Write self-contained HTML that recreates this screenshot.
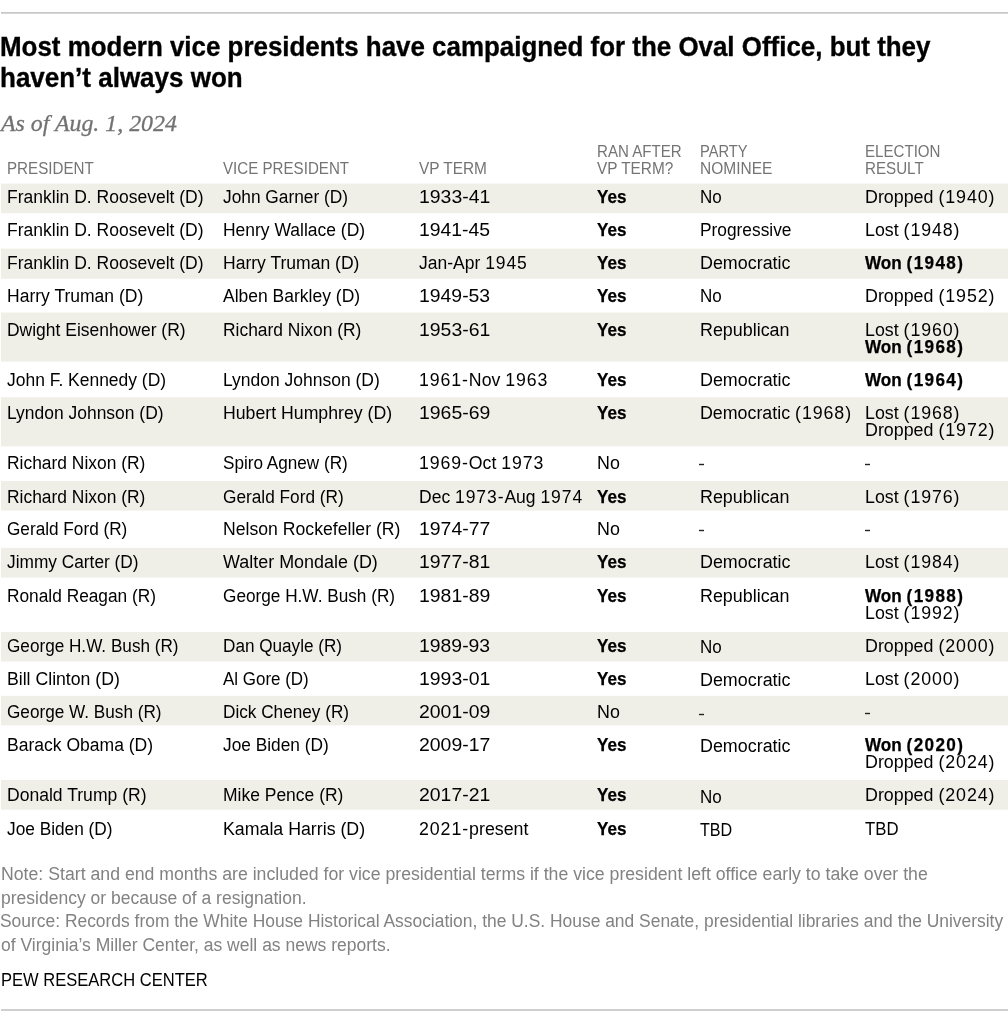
<!DOCTYPE html>
<html><head><meta charset="utf-8"><title>Vice presidents</title>
<style>
html,body{margin:0;padding:0;background:#fff}
body{width:1008px;height:1023px;position:relative;overflow:hidden;font-family:'Liberation Sans', sans-serif}
.t{position:absolute;white-space:nowrap;line-height:1;transform-origin:0 0;display:block}
.r{position:absolute}
#w{position:absolute;left:0;top:0;width:1008px;height:1023px;will-change:transform}
</style></head><body><div id="w">
<div class="r" style="left:1px;top:12px;width:1007px;height:1px;background:#c8c8c8"></div>
<div class="r" style="left:1px;top:13px;width:1007px;height:1px;background:#d6d6d6"></div>
<div class="r" style="left:1px;top:1009px;width:1007px;height:1px;background:#cecece"></div>
<div class="r" style="left:1px;top:1010px;width:1007px;height:1px;background:#d0d0d0"></div>
<div class="r" style="left:1px;top:184px;width:1007px;height:29px;background:#f0efe7"></div>
<div class="r" style="left:1px;top:183px;width:1007px;height:1px;background:#f8f7f3"></div>
<div class="r" style="left:1px;top:213px;width:1007px;height:1px;background:#fefdfd"></div>
<div class="r" style="left:1px;top:249px;width:1007px;height:29px;background:#f0efe7"></div>
<div class="r" style="left:1px;top:248px;width:1007px;height:1px;background:#f9f9f5"></div>
<div class="r" style="left:1px;top:278px;width:1007px;height:1px;background:#f4f3ed"></div>
<div class="r" style="left:1px;top:313px;width:1007px;height:48px;background:#f0efe7"></div>
<div class="r" style="left:1px;top:312px;width:1007px;height:1px;background:#f8f7f3"></div>
<div class="r" style="left:1px;top:361px;width:1007px;height:1px;background:#f6f5f1"></div>
<div class="r" style="left:1px;top:398px;width:1007px;height:48px;background:#f0efe7"></div>
<div class="r" style="left:1px;top:397px;width:1007px;height:1px;background:#f3f2ec"></div>
<div class="r" style="left:1px;top:446px;width:1007px;height:1px;background:#fafaf8"></div>
<div class="r" style="left:1px;top:481px;width:1007px;height:29px;background:#f0efe7"></div>
<div class="r" style="left:1px;top:510px;width:1007px;height:1px;background:#f6f5f1"></div>
<div class="r" style="left:1px;top:548px;width:1007px;height:29px;background:#f0efe7"></div>
<div class="r" style="left:1px;top:547px;width:1007px;height:1px;background:#fdfdfd"></div>
<div class="r" style="left:1px;top:577px;width:1007px;height:1px;background:#f6f5f1"></div>
<div class="r" style="left:1px;top:632px;width:1007px;height:29px;background:#f0efe7"></div>
<div class="r" style="left:1px;top:661px;width:1007px;height:1px;background:#f8f7f3"></div>
<div class="r" style="left:1px;top:696px;width:1007px;height:29px;background:#f0efe7"></div>
<div class="r" style="left:1px;top:695px;width:1007px;height:1px;background:#fdfdfd"></div>
<div class="r" style="left:1px;top:725px;width:1007px;height:1px;background:#fbfaf8"></div>
<div class="r" style="left:1px;top:780px;width:1007px;height:29px;background:#f0efe7"></div>
<div class="r" style="left:1px;top:809px;width:1007px;height:1px;background:#f4f4ee"></div>
<div class="r" style="left:699px;top:464px;width:5px;height:1px;background:#222222"></div>
<div class="r" style="left:699px;top:463px;width:5px;height:1px;background:#d3d3d3"></div>
<div class="r" style="left:699px;top:465px;width:5px;height:1px;background:#d3d3d3"></div>
<div class="r" style="left:865px;top:464px;width:5px;height:1px;background:#222222"></div>
<div class="r" style="left:865px;top:463px;width:5px;height:1px;background:#d3d3d3"></div>
<div class="r" style="left:865px;top:465px;width:5px;height:1px;background:#d3d3d3"></div>
<div class="r" style="left:699px;top:530px;width:5px;height:1px;background:#222222"></div>
<div class="r" style="left:699px;top:529px;width:5px;height:1px;background:#d3d3d3"></div>
<div class="r" style="left:699px;top:531px;width:5px;height:1px;background:#d3d3d3"></div>
<div class="r" style="left:865px;top:530px;width:5px;height:1px;background:#222222"></div>
<div class="r" style="left:865px;top:529px;width:5px;height:1px;background:#d3d3d3"></div>
<div class="r" style="left:865px;top:531px;width:5px;height:1px;background:#d3d3d3"></div>
<div class="r" style="left:699px;top:714px;width:5px;height:1px;background:#222222"></div>
<div class="r" style="left:699px;top:713px;width:5px;height:1px;background:#c7c6c0"></div>
<div class="r" style="left:699px;top:715px;width:5px;height:1px;background:#c7c6c0"></div>
<div class="r" style="left:865px;top:713px;width:5px;height:1px;background:#222222"></div>
<div class="r" style="left:865px;top:712px;width:5px;height:1px;background:#c7c6c0"></div>
<div class="r" style="left:865px;top:714px;width:5px;height:1px;background:#c7c6c0"></div>
<div class="t" style="left:0px;top:33px;font-size:27.6px;color:#000;transform:scaleX(0.9393);font-weight:700;-webkit-text-stroke:0.35px #000">Most modern vice presidents have campaigned for the Oval Office, but they</div>
<div class="t" style="left:0px;top:64px;font-size:27.6px;color:#000;transform:scaleX(0.9419);font-weight:700;-webkit-text-stroke:0.35px #000">haven’t always won</div>
<div class="t" style="left:1px;top:112px;font-size:23px;color:#727272;transform:scaleX(1.0376);font-style:italic;font-family:'Liberation Serif', serif;-webkit-text-stroke:0.3px #727272">As of Aug. 1, 2024</div>
<div class="t" style="left:7px;top:160px;font-size:17px;color:#747474;transform:scaleX(0.8926)">PRESIDENT</div>
<div class="t" style="left:223px;top:160px;font-size:17px;color:#747474;transform:scaleX(0.8899)">VICE PRESIDENT</div>
<div class="t" style="left:419px;top:160px;font-size:17px;color:#747474;transform:scaleX(0.9061)">VP TERM</div>
<div class="t" style="left:597px;top:143px;font-size:17px;color:#747474;transform:scaleX(0.8864)">RAN AFTER</div>
<div class="t" style="left:597px;top:160px;font-size:17px;color:#747474;transform:scaleX(0.9042)">VP TERM?</div>
<div class="t" style="left:700px;top:143px;font-size:17px;color:#747474;transform:scaleX(0.8642)">PARTY</div>
<div class="t" style="left:700px;top:160px;font-size:17px;color:#747474;transform:scaleX(0.9121)">NOMINEE</div>
<div class="t" style="left:865px;top:143px;font-size:17px;color:#747474;transform:scaleX(0.8884)">ELECTION</div>
<div class="t" style="left:865px;top:160px;font-size:17px;color:#747474;transform:scaleX(0.8912)">RESULT</div>
<div class="t" style="left:7px;top:189px;font-size:17.6px;color:#000;transform:scaleX(0.9954)">Franklin D. Roosevelt (D)</div>
<div class="t" style="left:223px;top:189px;font-size:17.6px;color:#000;transform:scaleX(0.9840)">John Garner (D)</div>
<div class="t" style="left:419px;top:189px;font-size:17.6px;color:#000;transform:scaleX(1.1035)">1933-41</div>
<div class="t" style="left:597px;top:189px;font-size:17.8px;color:#000;transform:scaleX(0.9590);font-weight:700;-webkit-text-stroke:0.25px #000">Yes</div>
<div class="t" style="left:700px;top:189px;font-size:17.6px;color:#000;transform:scaleX(0.9655)">No</div>
<div class="t" style="left:865px;top:189px;font-size:17.6px;color:#000;transform:scaleX(1.0139)">Dropped <span style="letter-spacing:0.9px">(1940)</span></div>
<div class="t" style="left:7px;top:222px;font-size:17.6px;color:#000;transform:scaleX(0.9954)">Franklin D. Roosevelt (D)</div>
<div class="t" style="left:223px;top:222px;font-size:17.6px;color:#000;transform:scaleX(0.9932)">Henry Wallace (D)</div>
<div class="t" style="left:419px;top:222px;font-size:17.6px;color:#000;transform:scaleX(1.1014)">1941-45</div>
<div class="t" style="left:597px;top:222px;font-size:17.8px;color:#000;transform:scaleX(0.9590);font-weight:700;-webkit-text-stroke:0.25px #000">Yes</div>
<div class="t" style="left:700px;top:222px;font-size:17.6px;color:#000;transform:scaleX(0.9847)">Progressive</div>
<div class="t" style="left:865px;top:222px;font-size:17.6px;color:#000;transform:scaleX(1.0107)">Lost <span style="letter-spacing:0.9px">(1948)</span></div>
<div class="t" style="left:7px;top:255px;font-size:17.6px;color:#000;transform:scaleX(0.9954)">Franklin D. Roosevelt (D)</div>
<div class="t" style="left:223px;top:255px;font-size:17.6px;color:#000;transform:scaleX(0.9972)">Harry Truman (D)</div>
<div class="t" style="left:419px;top:255px;font-size:17.6px;color:#000;transform:scaleX(0.9945)">Jan-Apr <span style="letter-spacing:0.9px">1945</span></div>
<div class="t" style="left:597px;top:255px;font-size:17.8px;color:#000;transform:scaleX(0.9590);font-weight:700;-webkit-text-stroke:0.25px #000">Yes</div>
<div class="t" style="left:700px;top:255px;font-size:17.6px;color:#000;transform:scaleX(1.0169)">Democratic</div>
<div class="t" style="left:865px;top:255px;font-size:17.8px;color:#000;transform:scaleX(0.9639);font-weight:700;-webkit-text-stroke:0.25px #000">Won <span style="letter-spacing:1.4px">(1948)</span></div>
<div class="t" style="left:7px;top:288px;font-size:17.6px;color:#000;transform:scaleX(0.9958)">Harry Truman (D)</div>
<div class="t" style="left:223px;top:288px;font-size:17.6px;color:#000;transform:scaleX(0.9944)">Alben Barkley (D)</div>
<div class="t" style="left:419px;top:288px;font-size:17.6px;color:#000;transform:scaleX(1.1020)">1949-53</div>
<div class="t" style="left:597px;top:288px;font-size:17.8px;color:#000;transform:scaleX(0.9590);font-weight:700;-webkit-text-stroke:0.25px #000">Yes</div>
<div class="t" style="left:700px;top:288px;font-size:17.6px;color:#000;transform:scaleX(0.9655)">No</div>
<div class="t" style="left:865px;top:288px;font-size:17.6px;color:#000;transform:scaleX(1.0139)">Dropped <span style="letter-spacing:0.9px">(1952)</span></div>
<div class="t" style="left:7px;top:322px;font-size:17.6px;color:#000;transform:scaleX(0.9926)">Dwight Eisenhower (R)</div>
<div class="t" style="left:223px;top:322px;font-size:17.6px;color:#000;transform:scaleX(0.9898)">Richard Nixon (R)</div>
<div class="t" style="left:419px;top:322px;font-size:17.6px;color:#000;transform:scaleX(1.1035)">1953-61</div>
<div class="t" style="left:597px;top:322px;font-size:17.8px;color:#000;transform:scaleX(0.9590);font-weight:700;-webkit-text-stroke:0.25px #000">Yes</div>
<div class="t" style="left:700px;top:322px;font-size:17.6px;color:#000;transform:scaleX(1.0163)">Republican</div>
<div class="t" style="left:865px;top:322px;font-size:17.6px;color:#000;transform:scaleX(1.0107)">Lost <span style="letter-spacing:0.9px">(1960)</span></div>
<div class="t" style="left:865px;top:339px;font-size:17.8px;color:#000;transform:scaleX(0.9639);font-weight:700;-webkit-text-stroke:0.25px #000">Won <span style="letter-spacing:1.4px">(1968)</span></div>
<div class="t" style="left:7px;top:372px;font-size:17.6px;color:#000;transform:scaleX(0.9919)">John F. Kennedy (D)</div>
<div class="t" style="left:223px;top:372px;font-size:17.6px;color:#000;transform:scaleX(0.9937)">Lyndon Johnson (D)</div>
<div class="t" style="left:419px;top:372px;font-size:17.6px;color:#000;transform:scaleX(1.0068)"><span style="letter-spacing:0.9px">1961-</span>Nov <span style="letter-spacing:0.9px">1963</span></div>
<div class="t" style="left:597px;top:372px;font-size:17.8px;color:#000;transform:scaleX(0.9590);font-weight:700;-webkit-text-stroke:0.25px #000">Yes</div>
<div class="t" style="left:700px;top:372px;font-size:17.6px;color:#000;transform:scaleX(1.0169)">Democratic</div>
<div class="t" style="left:865px;top:372px;font-size:17.8px;color:#000;transform:scaleX(0.9639);font-weight:700;-webkit-text-stroke:0.25px #000">Won <span style="letter-spacing:1.4px">(1964)</span></div>
<div class="t" style="left:7px;top:405px;font-size:17.6px;color:#000;transform:scaleX(0.9924)">Lyndon Johnson (D)</div>
<div class="t" style="left:223px;top:405px;font-size:17.6px;color:#000;transform:scaleX(1.0056)">Hubert Humphrey (D)</div>
<div class="t" style="left:419px;top:405px;font-size:17.6px;color:#000;transform:scaleX(1.1030)">1965-69</div>
<div class="t" style="left:597px;top:405px;font-size:17.8px;color:#000;transform:scaleX(0.9590);font-weight:700;-webkit-text-stroke:0.25px #000">Yes</div>
<div class="t" style="left:700px;top:405px;font-size:17.6px;color:#000;transform:scaleX(1.0127)">Democratic <span style="letter-spacing:0.9px">(1968)</span></div>
<div class="t" style="left:865px;top:405px;font-size:17.6px;color:#000;transform:scaleX(1.0107)">Lost <span style="letter-spacing:0.9px">(1968)</span></div>
<div class="t" style="left:865px;top:422px;font-size:17.6px;color:#000;transform:scaleX(1.0139)">Dropped <span style="letter-spacing:0.9px">(1972)</span></div>
<div class="t" style="left:7px;top:455px;font-size:17.6px;color:#000;transform:scaleX(0.9894)">Richard Nixon (R)</div>
<div class="t" style="left:223px;top:455px;font-size:17.6px;color:#000;transform:scaleX(0.9744)">Spiro Agnew (R)</div>
<div class="t" style="left:419px;top:455px;font-size:17.6px;color:#000;transform:scaleX(1.0063)"><span style="letter-spacing:0.9px">1969-</span>Oct <span style="letter-spacing:0.9px">1973</span></div>
<div class="t" style="left:597px;top:455px;font-size:17.6px;color:#000;transform:scaleX(1.0160)">No</div>
<div class="t" style="left:7px;top:489px;font-size:17.6px;color:#000;transform:scaleX(0.9894)">Richard Nixon (R)</div>
<div class="t" style="left:223px;top:489px;font-size:17.6px;color:#000;transform:scaleX(0.9804)">Gerald Ford (R)</div>
<div class="t" style="left:419px;top:489px;font-size:17.6px;color:#000;transform:scaleX(0.9964)">Dec <span style="letter-spacing:0.9px">1973-</span>Aug <span style="letter-spacing:0.9px">1974</span></div>
<div class="t" style="left:597px;top:489px;font-size:17.8px;color:#000;transform:scaleX(0.9590);font-weight:700;-webkit-text-stroke:0.25px #000">Yes</div>
<div class="t" style="left:700px;top:489px;font-size:17.6px;color:#000;transform:scaleX(1.0163)">Republican</div>
<div class="t" style="left:865px;top:489px;font-size:17.6px;color:#000;transform:scaleX(1.0107)">Lost <span style="letter-spacing:0.9px">(1976)</span></div>
<div class="t" style="left:7px;top:521px;font-size:17.6px;color:#000;transform:scaleX(0.9767)">Gerald Ford (R)</div>
<div class="t" style="left:223px;top:521px;font-size:17.6px;color:#000;transform:scaleX(1.0024)">Nelson Rockefeller (R)</div>
<div class="t" style="left:419px;top:521px;font-size:17.6px;color:#000;transform:scaleX(1.1039)">1974-77</div>
<div class="t" style="left:597px;top:521px;font-size:17.6px;color:#000;transform:scaleX(1.0160)">No</div>
<div class="t" style="left:7px;top:554px;font-size:17.6px;color:#000;transform:scaleX(0.9827)">Jimmy Carter (D)</div>
<div class="t" style="left:223px;top:554px;font-size:17.6px;color:#000;transform:scaleX(1.0194)">Walter Mondale (D)</div>
<div class="t" style="left:419px;top:554px;font-size:17.6px;color:#000;transform:scaleX(1.1035)">1977-81</div>
<div class="t" style="left:597px;top:554px;font-size:17.8px;color:#000;transform:scaleX(0.9590);font-weight:700;-webkit-text-stroke:0.25px #000">Yes</div>
<div class="t" style="left:700px;top:554px;font-size:17.6px;color:#000;transform:scaleX(1.0169)">Democratic</div>
<div class="t" style="left:865px;top:554px;font-size:17.6px;color:#000;transform:scaleX(1.0107)">Lost <span style="letter-spacing:0.9px">(1984)</span></div>
<div class="t" style="left:7px;top:588px;font-size:17.6px;color:#000;transform:scaleX(0.9834)">Ronald Reagan (R)</div>
<div class="t" style="left:223px;top:588px;font-size:17.6px;color:#000;transform:scaleX(0.9777)">George H.W. Bush (R)</div>
<div class="t" style="left:419px;top:588px;font-size:17.6px;color:#000;transform:scaleX(1.1030)">1981-89</div>
<div class="t" style="left:597px;top:588px;font-size:17.8px;color:#000;transform:scaleX(0.9590);font-weight:700;-webkit-text-stroke:0.25px #000">Yes</div>
<div class="t" style="left:700px;top:588px;font-size:17.6px;color:#000;transform:scaleX(1.0163)">Republican</div>
<div class="t" style="left:865px;top:588px;font-size:17.8px;color:#000;transform:scaleX(0.9639);font-weight:700;-webkit-text-stroke:0.25px #000">Won <span style="letter-spacing:1.4px">(1988)</span></div>
<div class="t" style="left:865px;top:605px;font-size:17.6px;color:#000;transform:scaleX(1.0107)">Lost <span style="letter-spacing:0.9px">(1992)</span></div>
<div class="t" style="left:7px;top:638px;font-size:17.6px;color:#000;transform:scaleX(0.9749)">George H.W. Bush (R)</div>
<div class="t" style="left:223px;top:638px;font-size:17.6px;color:#000;transform:scaleX(0.9742)">Dan Quayle (R)</div>
<div class="t" style="left:419px;top:638px;font-size:17.6px;color:#000;transform:scaleX(1.1020)">1989-93</div>
<div class="t" style="left:597px;top:638px;font-size:17.8px;color:#000;transform:scaleX(0.9590);font-weight:700;-webkit-text-stroke:0.25px #000">Yes</div>
<div class="t" style="left:700px;top:639px;font-size:17.6px;color:#000;transform:scaleX(0.9655)">No</div>
<div class="t" style="left:865px;top:638px;font-size:17.6px;color:#000;transform:scaleX(1.0139)">Dropped <span style="letter-spacing:0.9px">(2000)</span></div>
<div class="t" style="left:7px;top:671px;font-size:17.6px;color:#000;transform:scaleX(1.0037)">Bill Clinton (D)</div>
<div class="t" style="left:223px;top:671px;font-size:17.6px;color:#000;transform:scaleX(0.9640)">Al Gore (D)</div>
<div class="t" style="left:419px;top:671px;font-size:17.6px;color:#000;transform:scaleX(1.1035)">1993-01</div>
<div class="t" style="left:597px;top:671px;font-size:17.8px;color:#000;transform:scaleX(0.9590);font-weight:700;-webkit-text-stroke:0.25px #000">Yes</div>
<div class="t" style="left:700px;top:672px;font-size:17.6px;color:#000;transform:scaleX(1.0169)">Democratic</div>
<div class="t" style="left:865px;top:671px;font-size:17.6px;color:#000;transform:scaleX(1.0107)">Lost <span style="letter-spacing:0.9px">(2000)</span></div>
<div class="t" style="left:7px;top:704px;font-size:17.6px;color:#000;transform:scaleX(0.9758)">George W. Bush (R)</div>
<div class="t" style="left:223px;top:704px;font-size:17.6px;color:#000;transform:scaleX(0.9769)">Dick Cheney (R)</div>
<div class="t" style="left:419px;top:704px;font-size:17.6px;color:#000;transform:scaleX(1.1030)">2001-09</div>
<div class="t" style="left:597px;top:704px;font-size:17.6px;color:#000;transform:scaleX(1.0160)">No</div>
<div class="t" style="left:7px;top:737px;font-size:17.6px;color:#000;transform:scaleX(0.9962)">Barack Obama (D)</div>
<div class="t" style="left:223px;top:737px;font-size:17.6px;color:#000;transform:scaleX(0.9834)">Joe Biden (D)</div>
<div class="t" style="left:419px;top:737px;font-size:17.6px;color:#000;transform:scaleX(1.1039)">2009-17</div>
<div class="t" style="left:597px;top:737px;font-size:17.8px;color:#000;transform:scaleX(0.9590);font-weight:700;-webkit-text-stroke:0.25px #000">Yes</div>
<div class="t" style="left:700px;top:738px;font-size:17.6px;color:#000;transform:scaleX(1.0169)">Democratic</div>
<div class="t" style="left:865px;top:737px;font-size:17.8px;color:#000;transform:scaleX(0.9639);font-weight:700;-webkit-text-stroke:0.25px #000">Won <span style="letter-spacing:1.4px">(2020)</span></div>
<div class="t" style="left:865px;top:754px;font-size:17.6px;color:#000;transform:scaleX(1.0139)">Dropped <span style="letter-spacing:0.9px">(2024)</span></div>
<div class="t" style="left:7px;top:787px;font-size:17.6px;color:#000;transform:scaleX(0.9979)">Donald Trump (R)</div>
<div class="t" style="left:223px;top:787px;font-size:17.6px;color:#000;transform:scaleX(0.9930)">Mike Pence (R)</div>
<div class="t" style="left:419px;top:787px;font-size:17.6px;color:#000;transform:scaleX(1.1035)">2017-21</div>
<div class="t" style="left:597px;top:787px;font-size:17.8px;color:#000;transform:scaleX(0.9590);font-weight:700;-webkit-text-stroke:0.25px #000">Yes</div>
<div class="t" style="left:700px;top:789px;font-size:17.6px;color:#000;transform:scaleX(0.9655)">No</div>
<div class="t" style="left:865px;top:787px;font-size:17.6px;color:#000;transform:scaleX(1.0139)">Dropped <span style="letter-spacing:0.9px">(2024)</span></div>
<div class="t" style="left:7px;top:821px;font-size:17.6px;color:#000;transform:scaleX(0.9815)">Joe Biden (D)</div>
<div class="t" style="left:223px;top:821px;font-size:17.6px;color:#000;transform:scaleX(1.0095)">Kamala Harris (D)</div>
<div class="t" style="left:419px;top:821px;font-size:17.6px;color:#000;transform:scaleX(1.0115)"><span style="letter-spacing:0.9px">2021-</span>present</div>
<div class="t" style="left:597px;top:821px;font-size:17.8px;color:#000;transform:scaleX(0.9590);font-weight:700;-webkit-text-stroke:0.25px #000">Yes</div>
<div class="t" style="left:700px;top:822px;font-size:17.6px;color:#000;transform:scaleX(0.9172)">TBD</div>
<div class="t" style="left:865px;top:821px;font-size:17.6px;color:#000;transform:scaleX(0.9521)">TBD</div>
<div class="t" style="left:1px;top:866px;font-size:17.6px;color:#828282;transform:scaleX(1.0053)">Note: Start and end months are included for vice presidential terms if the vice president left office early to take over the</div>
<div class="t" style="left:1px;top:890px;font-size:17.6px;color:#828282;transform:scaleX(0.9951)">presidency or because of a resignation.</div>
<div class="t" style="left:0px;top:913px;font-size:17.6px;color:#828282;transform:scaleX(0.9902)">Source: Records from the White House Historical Association, the U.S. House and Senate, presidential libraries and the University</div>
<div class="t" style="left:1px;top:937px;font-size:17.6px;color:#828282;transform:scaleX(0.9952)">of Virginia’s Miller Center, as well as news reports.</div>
<div class="t" style="left:1px;top:972px;font-size:17.6px;color:#000;transform:scaleX(0.9401)">PEW RESEARCH CENTER</div>
</div></body></html>
